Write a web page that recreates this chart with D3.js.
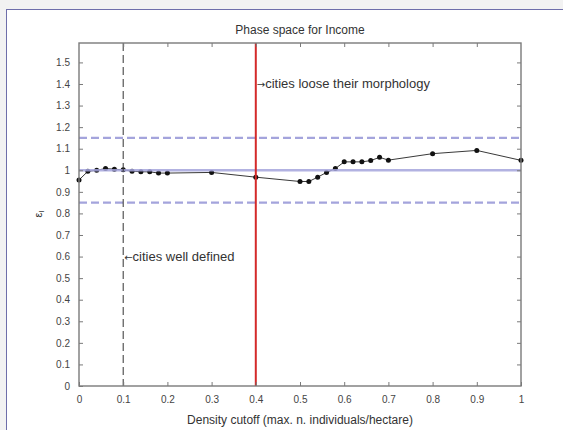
<!DOCTYPE html>
<html>
<head>
<meta charset="utf-8">
<script src="https://cdn.jsdelivr.net/npm/d3@7"></script>
<style>
  html, body { margin: 0; padding: 0; background: #f2f2f2; }
  svg { display: block; }
  text { font-family: "Liberation Sans", Arial, sans-serif; }
</style>
</head>
<body>
<svg id="chart" width="563" height="430"></svg>
<script>
// Density cutoff values (x) and the measured income epsilon (y)
const densityCutoff = [0, 0.02, 0.04, 0.06, 0.08, 0.1, 0.12, 0.14, 0.16, 0.18, 0.2,
  0.3, 0.4, 0.5, 0.52, 0.54, 0.56, 0.58, 0.6, 0.62, 0.64, 0.66, 0.68, 0.7, 0.8, 0.9, 1];
const epsilonIncome = [0.955, 0.995, 1.0, 1.008, 1.005, 1.002, 0.996, 0.993, 0.993, 0.987, 0.987,
  0.99, 0.968, 0.948, 0.948, 0.968, 0.99, 1.008, 1.039, 1.039, 1.039, 1.045, 1.06, 1.047, 1.077, 1.092, 1.046];

// Reference levels
const solidLevel = [1];
const dashedLevels = [1.15, 0.85];
const wellDefinedCut = [0.1];
const morphologyCut = [0.4];

// Tick values
const xTicks = [0, 0.1, 0.2, 0.3, 0.4, 0.5, 0.6, 0.7, 0.8, 0.9, 1];
const yTicks = [0, 0.1, 0.2, 0.3, 0.4, 0.5, 0.6, 0.7, 0.8, 0.9, 1, 1.1, 1.2, 1.3, 1.4, 1.5];

(function () {
  const svg = d3.select("#chart");
  const W = 563, H = 430;
  const plotL = 79, plotR = 521, plotT = 43, plotB = 386;

  // Page panel
  svg.append("rect").attr("width", W).attr("height", H).attr("fill", "#f2f2f2");
  svg.append("rect").attr("x", 6.5).attr("y", 9.5).attr("width", 620).attr("height", 500)
    .attr("fill", "#ffffff").attr("stroke", "#6e6eaa").attr("stroke-width", 1);

  const x = d3.scaleLinear().domain([0, 1]).range([plotL, plotR]);
  const y = d3.scaleLinear().domain([0, 1.59]).range([plotB, plotT]);

  const fmt = d => d3.format("~g")(d);

  // Data line and markers
  const line = d3.line().x((d, i) => x(densityCutoff[i])).y(d => y(d));
  svg.append("path").datum(epsilonIncome)
    .attr("d", line).attr("fill", "none").attr("stroke", "#222").attr("stroke-width", 0.9);
  svg.selectAll("circle.pt").data(epsilonIncome).enter().append("circle")
    .attr("class", "pt")
    .attr("cx", (d, i) => x(densityCutoff[i])).attr("cy", d => y(d))
    .attr("r", 2.5).attr("fill", "#111");

  // Horizontal reference levels
  svg.selectAll("line.solid").data(solidLevel).enter().append("line")
    .attr("class", "solid")
    .attr("x1", plotL).attr("x2", plotR).attr("y1", d => y(d)).attr("y2", d => y(d))
    .attr("stroke", "#a4a4dc").attr("stroke-width", 2.4).attr("stroke-opacity", 0.85);
  svg.selectAll("line.dash").data(dashedLevels).enter().append("line")
    .attr("class", "dash")
    .attr("x1", plotL).attr("x2", plotR).attr("y1", d => y(d)).attr("y2", d => y(d))
    .attr("stroke", "#a4a4dc").attr("stroke-width", 2.2).attr("stroke-dasharray", "8,4");

  // Vertical cutoffs
  svg.selectAll("line.well").data(wellDefinedCut).enter().append("line")
    .attr("class", "well")
    .attr("x1", d => x(d)).attr("x2", d => x(d)).attr("y1", plotT).attr("y2", plotB)
    .attr("stroke", "#333").attr("stroke-width", 1).attr("stroke-dasharray", "8,4");
  svg.selectAll("line.morph").data(morphologyCut).enter().append("line")
    .attr("class", "morph")
    .attr("x1", d => x(d)).attr("x2", d => x(d)).attr("y1", plotT).attr("y2", plotB)
    .attr("stroke", "#d42a2a").attr("stroke-width", 2);

  // Axes box with inward ticks on all sides
  const axisColor = "#7a7a7a";
  const styleAxis = g => {
    g.selectAll("path.domain").remove();
    g.selectAll(".tick line").attr("stroke", axisColor).attr("stroke-width", 1);
    g.selectAll(".tick text").attr("fill", "#444").style("font-size", "10px")
      .style("font-family", "'Liberation Sans', Arial, sans-serif");
  };
  svg.append("g").attr("transform", `translate(0,${plotB})`)
    .call(d3.axisBottom(x).tickValues(xTicks).tickFormat(fmt).tickSizeInner(-4).tickSizeOuter(0).tickPadding(10))
    .call(styleAxis);
  svg.append("g").attr("transform", `translate(0,${plotT})`)
    .call(d3.axisTop(x).tickValues(xTicks.slice(1, -1)).tickFormat("").tickSizeInner(-4).tickSizeOuter(0))
    .call(styleAxis);
  svg.append("g").attr("transform", `translate(${plotL},0)`)
    .call(d3.axisLeft(y).tickValues(yTicks).tickFormat(fmt).tickSizeInner(-4).tickSizeOuter(0).tickPadding(9))
    .call(styleAxis);
  svg.append("g").attr("transform", `translate(${plotR},0)`)
    .call(d3.axisRight(y).tickValues(yTicks.slice(1)).tickFormat("").tickSizeInner(-4).tickSizeOuter(0))
    .call(styleAxis);
  svg.append("rect").attr("x", plotL).attr("y", plotT).attr("width", plotR - plotL).attr("height", plotB - plotT)
    .attr("fill", "none").attr("stroke", axisColor).attr("stroke-width", 1.4);

  // Titles and labels
  svg.append("text").attr("x", (plotL + plotR) / 2).attr("y", 34).attr("text-anchor", "middle")
    .attr("fill", "#333").style("font-size", "12px").text("Phase space for Income");
  svg.append("text").attr("x", (plotL + plotR) / 2).attr("y", 424).attr("text-anchor", "middle")
    .attr("fill", "#333").style("font-size", "12px").text("Density cutoff (max. n. individuals/hectare)");
  const yl = svg.append("text").attr("transform", "translate(42,214) rotate(-90)")
    .attr("text-anchor", "middle").attr("fill", "#333").style("font-size", "11px");
  yl.append("tspan").text("ε");
  yl.append("tspan").attr("dy", 2).style("font-size", "8px").text("I");

  // Annotations
  const ann1 = svg.append("text").attr("x", x(morphologyCut[0]) + 1).attr("y", y(1.4) + 4)
    .attr("fill", "#333").style("font-size", "13px");
  ann1.append("tspan").style("font-family", "'DejaVu Sans', sans-serif").style("font-size", "10px").text("→");
  ann1.append("tspan").text("cities loose their morphology");
  const ann2 = svg.append("text").attr("x", x(wellDefinedCut[0]) + 1).attr("y", y(0.6) + 4)
    .attr("fill", "#333").style("font-size", "13px");
  ann2.append("tspan").style("font-family", "'DejaVu Sans', sans-serif").style("font-size", "10px").text("←");
  ann2.append("tspan").text("cities well defined");
})();
</script>
</body>
</html>
